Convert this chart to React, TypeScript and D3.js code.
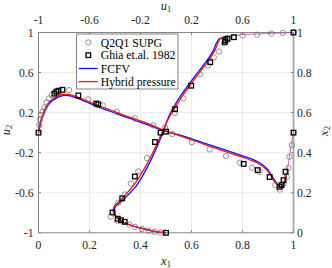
import React from "react";
import * as d3 from "d3";

// ---- tick values ----
const x1Ticks = [0, 0.2, 0.4, 0.6, 0.8, 1];
const u1Ticks = [-1, -0.6, -0.2, 0.2, 0.6, 1];
const u2Ticks = [1, 0.6, 0.2, -0.2, -0.6, -1];
const x2Ticks = [0, 0.2, 0.4, 0.6, 0.8, 1];

// ---- Ghia et al. 1982 (Re = 3200) ----
const ghiaVx = [1.0, 0.9688, 0.9609, 0.9531, 0.9453, 0.9063, 0.8594, 0.8047, 0.5, 0.2344, 0.2266, 0.1563, 0.0938, 0.0781, 0.0703, 0.0625, 0.0];
const ghiaV = [0, -0.39017, -0.47425, -0.52357, -0.54053, -0.44307, -0.37401, -0.31184, 0.00999, 0.28188, 0.2903, 0.37119, 0.42768, 0.41906, 0.40917, 0.39017, 0];
const ghiaUy = [1.0, 0.9766, 0.9688, 0.9609, 0.9531, 0.8516, 0.7344, 0.6172, 0.5, 0.4531, 0.2813, 0.1719, 0.1016, 0.0703, 0.0625, 0.0547, 0.0];
const ghiaU = [1, 0.53236, 0.48296, 0.46547, 0.46101, 0.34682, 0.19791, 0.07156, -0.04272, -0.08636, -0.24427, -0.34323, -0.41933, -0.37827, -0.35344, -0.32407, 0];

// ---- Q2Q1 SUPG ----
const supgVx = [0.003, 0.006, 0.010, 0.016, 0.023, 0.032, 0.041, 0.053, 0.120, 0.195, 0.252, 0.307, 0.378, 0.450, 0.525, 0.601, 0.671, 0.735, 0.790, 0.837, 0.867, 0.929, 0.946, 0.961, 0.974, 0.980, 0.984, 0.993];
const supgV = [0.076, 0.133, 0.176, 0.209, 0.252, 0.302, 0.342, 0.375, 0.425, 0.332, 0.272, 0.209, 0.141, 0.073, -0.014, -0.094, -0.167, -0.234, -0.300, -0.351, -0.390, -0.523, -0.568, -0.508, -0.440, -0.353, -0.240, -0.124];
const supgU = [-0.043, -0.090, -0.137, -0.188, -0.243, -0.288, -0.383, -0.434, -0.374, -0.323, -0.276, -0.217, -0.149, -0.008, 0.068, 0.136, 0.267, 0.329, 0.375, 0.416, 0.457, 0.476, 0.600, 0.714, 0.827, 0.916, 1.0];
const supgUy = [0.0015, 0.005, 0.011, 0.019, 0.030, 0.041, 0.061, 0.081, 0.150, 0.191, 0.246, 0.307, 0.373, 0.526, 0.598, 0.671, 0.791, 0.835, 0.876, 0.905, 0.946, 0.971, 0.985, 0.989, 0.994, 0.998, 1.0];

// ---- Hybrid pressure ----
const hybVx = [0, 0.003, 0.007, 0.012, 0.019, 0.027, 0.038, 0.051, 0.065, 0.078, 0.092, 0.106, 0.120, 0.136, 0.155, 0.176, 0.202, 0.228, 0.265, 0.307, 0.343, 0.384, 0.437, 0.496, 0.575, 0.653, 0.731, 0.809, 0.837, 0.862, 0.880, 0.896, 0.910, 0.923, 0.935, 0.945, 0.953, 0.960, 0.967, 0.972];
const hybV = [0, 0.046, 0.096, 0.146, 0.196, 0.246, 0.292, 0.325, 0.350, 0.369, 0.381, 0.385, 0.382, 0.369, 0.353, 0.332, 0.305, 0.278, 0.243, 0.203, 0.168, 0.131, 0.083, 0.021, -0.049, -0.119, -0.187, -0.253, -0.280, -0.308, -0.338, -0.376, -0.423, -0.478, -0.518, -0.541, -0.546, -0.523, -0.473, -0.423];
const hybU = [0, -0.110, -0.204, -0.282, -0.345, -0.384, -0.408, -0.414, -0.404, -0.379, -0.341, -0.298, -0.255, -0.196, -0.133, -0.082, -0.043, -0.008, 0.031, 0.075, 0.125, 0.202, 0.259, 0.319, 0.357, 0.384, 0.400, 0.412, 0.424, 0.447, 0.486];
const hybUy = [0, 0.010, 0.024, 0.039, 0.056, 0.074, 0.094, 0.111, 0.134, 0.149, 0.174, 0.204, 0.236, 0.293, 0.363, 0.428, 0.483, 0.533, 0.583, 0.628, 0.680, 0.748, 0.797, 0.847, 0.882, 0.912, 0.937, 0.955, 0.967, 0.975, 0.980];

// ---- FCFV ----
const fcfvVx = [0, 0.004, 0.008, 0.014, 0.022, 0.031, 0.042, 0.055, 0.069, 0.082, 0.096, 0.110, 0.124, 0.139, 0.159, 0.178, 0.204, 0.229, 0.266, 0.308, 0.344, 0.385, 0.437, 0.496, 0.575, 0.653, 0.731, 0.809, 0.837, 0.862, 0.880, 0.896, 0.910, 0.923, 0.935, 0.945, 0.953, 0.960, 0.967, 0.972];
const fcfvV = [0, 0.046, 0.096, 0.146, 0.196, 0.246, 0.288, 0.320, 0.342, 0.359, 0.369, 0.372, 0.367, 0.355, 0.337, 0.317, 0.290, 0.263, 0.228, 0.188, 0.154, 0.118, 0.071, 0.016, -0.039, -0.106, -0.172, -0.239, -0.265, -0.293, -0.323, -0.361, -0.409, -0.465, -0.508, -0.533, -0.539, -0.518, -0.468, -0.423];
const fcfvU = [0, -0.110, -0.204, -0.282, -0.341, -0.380, -0.402, -0.406, -0.394, -0.365, -0.322, -0.275, -0.231, -0.176, -0.118, -0.071, -0.035, -0.006, 0.024, 0.061, 0.110, 0.187, 0.245, 0.306, 0.345, 0.373, 0.388, 0.402, 0.416, 0.439, 0.486];
const fcfvUy = [0, 0.010, 0.024, 0.039, 0.056, 0.074, 0.094, 0.111, 0.134, 0.149, 0.174, 0.204, 0.236, 0.293, 0.363, 0.428, 0.483, 0.533, 0.583, 0.628, 0.680, 0.748, 0.797, 0.847, 0.882, 0.912, 0.937, 0.955, 0.967, 0.975, 0.980];

// ---- near-wall part shared by both solvers ----
const wallVx = [0.972, 0.977, 0.982, 0.988, 0.993, 1.0];
const wallV = [-0.423, -0.353, -0.273, -0.174, -0.094, 0];
const wallU = [0.486, 0.604, 0.714, 0.831, 0.918, 1.0];
const wallUy = [0.980, 0.990, 0.992, 0.996, 0.998, 1.0];

const legendLabels = ["Q2Q1 SUPG", "Ghia et.al. 1982", "FCFV", "Hybrid pressure"];

const W = 332, H = 268;
const L = 38.5, R = 293.5, T = 32.5, B = 232.8;
const FONT = "'Liberation Serif', 'Times New Roman', serif";
const AX = "#858585";
const TXT = "#262626";

const sx1 = d3.scaleLinear().domain([0, 1]).range([L, R]);
const su1 = d3.scaleLinear().domain([-1, 1]).range([L, R]);
const su2 = d3.scaleLinear().domain([-1, 1]).range([B, T]);
const sx2 = d3.scaleLinear().domain([0, 1]).range([B, T]);

const zip = (a: number[], b: number[]) => a.map((v, i) => [v, b[i]] as [number, number]);
const lineV = d3.line<[number, number]>().x(d => sx1(d[0])).y(d => su2(d[1])).curve(d3.curveCatmullRom.alpha(0.5));
const lineU = d3.line<[number, number]>().x(d => su1(d[0])).y(d => sx2(d[1])).curve(d3.curveCatmullRom.alpha(0.5));

const fmt = (v: number) => String(v);

export default function App() {
  const circles: [number, number][] = [
    ...zip(supgVx, supgV).map(d => [sx1(d[0]), su2(d[1])] as [number, number]),
    ...zip(supgU, supgUy).map(d => [su1(d[0]), sx2(d[1])] as [number, number]),
  ];
  const squares: [number, number][] = [
    ...zip(ghiaVx, ghiaV).map(d => [sx1(d[0]), su2(d[1])] as [number, number]),
    ...zip(ghiaU, ghiaUy).map(d => [su1(d[0]), sx2(d[1])] as [number, number]),
  ];
  const lg = { x: 76.7, y: 34, w: 101.3, h: 55 };
  const rowY = [42.5, 55.2, 68.5, 81.6];
  const sq = 4.6;
  return (
    <svg width={W} height={H} style={{ position: "fixed", left: 0, top: 0, background: "#fff" }} fontFamily={FONT}>
      <rect x={0} y={0} width={W} height={H} fill="#fff" />
      {/* grid */}
      {x1Ticks.slice(1, -1).map(t => (
        <line key={"gx" + t} x1={sx1(t)} x2={sx1(t)} y1={T} y2={B} stroke="#e6e6e6" strokeWidth={0.8} />
      ))}
      {u2Ticks.slice(1, -1).map(t => (
        <line key={"gy" + t} x1={L} x2={R} y1={su2(t)} y2={su2(t)} stroke="#e6e6e6" strokeWidth={0.8} />
      ))}
      {/* axes box */}
      <line x1={L} x2={R} y1={B} y2={B} stroke={AX} strokeWidth={1} />
      <line x1={L} x2={R} y1={T} y2={T} stroke={AX} strokeWidth={1} />
      <line x1={L} x2={L} y1={T} y2={B} stroke={AX} strokeWidth={1} />
      <line x1={R} x2={R} y1={T} y2={B} stroke="#a8a8a8" strokeWidth={1.8} />
      {/* ticks */}
      {x1Ticks.map(t => (
        <line key={"tb" + t} x1={sx1(t)} x2={sx1(t)} y1={B} y2={B - 2.5} stroke={AX} />
      ))}
      {u1Ticks.map(t => (
        <line key={"tt" + t} x1={su1(t)} x2={su1(t)} y1={T} y2={T + 2.5} stroke={AX} />
      ))}
      {u2Ticks.map(t => (
        <line key={"tl" + t} x1={L} x2={L + 2.5} y1={su2(t)} y2={su2(t)} stroke={AX} />
      ))}
      {x2Ticks.map(t => (
        <line key={"tr" + t} x1={R} x2={R - 2.5} y1={sx2(t)} y2={sx2(t)} stroke={AX} />
      ))}
      {/* tick labels */}
      {x1Ticks.map(t => (
        <text key={"lb" + t} x={sx1(t)} y={248.5} textAnchor="middle" fontSize={11.7} fill={TXT}>{fmt(t)}</text>
      ))}
      {u1Ticks.map(t => (
        <text key={"lt" + t} x={su1(t)} y={24.3} textAnchor="middle" fontSize={11.7} fill={TXT}>{fmt(t)}</text>
      ))}
      {u2Ticks.map(t => (
        <text key={"ll" + t} x={33.5} y={su2(t) + 4} textAnchor="end" fontSize={11.7} fill={TXT}>{fmt(t)}</text>
      ))}
      {x2Ticks.map(t => (
        <text key={"lr" + t} x={297} y={sx2(t) + 4} textAnchor="start" fontSize={11.7} fill={TXT}>{fmt(t)}</text>
      ))}
      {/* axis titles */}
      <text x={166} y={9.5} textAnchor="middle" fontSize={12.5} fill={TXT}>
        <tspan fontStyle="italic">u</tspan><tspan fontSize={8.5} dy={2.5}>1</tspan>
      </text>
      <text x={166} y={264.5} textAnchor="middle" fontSize={12.5} fill={TXT}>
        <tspan fontStyle="italic">x</tspan><tspan fontSize={8.5} dy={2.5}>1</tspan>
      </text>
      <text transform={`translate(9.5,130) rotate(-90)`} textAnchor="middle" fontSize={12.5} fill={TXT}>
        <tspan fontStyle="italic">u</tspan><tspan fontSize={8.5} dy={2.5}>2</tspan>
      </text>
      <text transform={`translate(328,131) rotate(-90)`} textAnchor="middle" fontSize={12.5} fill={TXT}>
        <tspan fontStyle="italic">x</tspan><tspan fontSize={8.5} dy={2}>2</tspan>
      </text>
      {/* curves */}
      <path d={lineV(zip(fcfvVx, fcfvV)) || ""} fill="none" stroke="#1010ff" strokeWidth={1.3} />
      <path d={lineU(zip(fcfvU, fcfvUy)) || ""} fill="none" stroke="#1010ff" strokeWidth={1.3} />
      <path d={lineV(zip(hybVx, hybV)) || ""} fill="none" stroke="#ff1010" strokeWidth={1.3} />
      <path d={lineU(zip(hybU, hybUy)) || ""} fill="none" stroke="#ff1010" strokeWidth={1.3} />
      <path d={lineV(zip(wallVx, wallV)) || ""} fill="none" stroke="#c838b8" strokeWidth={0.8} />
      <path d={lineU(zip(wallU, wallUy)) || ""} fill="none" stroke="#c838b8" strokeWidth={0.8} />
      {/* markers */}
      {circles.map((c, i) => (
        <circle key={"c" + i} cx={c[0]} cy={c[1]} r={2.7} fill="none" stroke="#6a6a6a" strokeWidth={0.7} />
      ))}
      {squares.map((s, i) => (
        <rect key={"s" + i} x={s[0] - sq / 2} y={s[1] - sq / 2} width={sq} height={sq} fill="none" stroke="#000" strokeWidth={1.3} />
      ))}
      {/* legend */}
      <rect x={lg.x} y={lg.y} width={lg.w} height={lg.h} fill="#fff" stroke="#333" strokeWidth={0.6} />
      <circle cx={88.3} cy={rowY[0]} r={2.7} fill="none" stroke="#6a6a6a" strokeWidth={0.7} />
      <rect x={88.3 - sq / 2} y={rowY[1] - sq / 2} width={sq} height={sq} fill="none" stroke="#000" strokeWidth={1.3} />
      <line x1={78.7} x2={97.7} y1={rowY[2]} y2={rowY[2]} stroke="#1010ff" strokeWidth={1.3} />
      <line x1={78.7} x2={97.7} y1={rowY[3]} y2={rowY[3]} stroke="#ff1010" strokeWidth={1.3} />
      {legendLabels.map((s, i) => (
        <text key={"lg" + i} x={100.7} y={rowY[i] + 4} fontSize={11.7} fill="#000">{s}</text>
      ))}
    </svg>
  );
}
